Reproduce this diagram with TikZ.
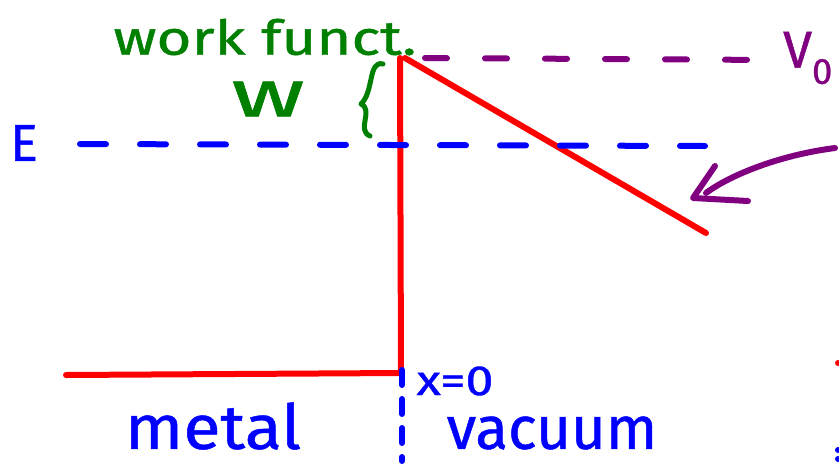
\documentclass[tikz,border=0pt]{standalone}
\usepackage{fontspec}
\setmainfont{Fira Sans}[UprightFeatures={FakeBold=0.8}]
\usetikzlibrary{arrows.meta}
\definecolor{penred}{RGB}{255,0,0}
\definecolor{penblue}{RGB}{0,0,255}
\definecolor{pengreen}{RGB}{0,128,0}
\definecolor{penpurple}{RGB}{128,0,128}
\tikzset{
  pen/.style={line width=6pt, line cap=round, line join=round},
  redpen/.style={pen, penred},
  bluedash/.style={pen, penblue, dash pattern=on 26pt off 34pt},
  purpledash/.style={pen, penpurple, dash pattern=on 22pt off 38pt},
  vdash/.style={pen, penblue, dash pattern=on 15pt off 14pt},
  label/.style={inner sep=0pt},
}
\newcommand{\fsz}[1]{\fontsize{#1}{#1}\selectfont}
\begin{document}
\begin{tikzpicture}[x=1pt,y=-1pt]
\useasboundingbox (0,0) rectangle (839,467);
% potential profile
\coordinate (m0) at (66,375);
\coordinate (m1) at (401,373);
\coordinate (top) at (400,58);
\coordinate (s0) at (405,58);
\coordinate (s1) at (706,233);
\draw[redpen] (m0) -- (m1) -- (top);
\draw[redpen] (s0) -- (s1);
% E level
\node[label, text=penblue, font=\fsz{52}] (E) at (24,143) {E};
\coordinate (e0) at (80,144);
\coordinate (e1) at (705,146);
\draw[bluedash] (e0) -- (e1);
% V0 level
\node[label, text=penpurple, font=\fsz{52}] (V) at (808,58) {V\textsubscript{0}};
\coordinate (v0) at (425,58);
\coordinate (v1) at (776,60);
\draw[purpledash] (v0) -- (v1);
% purple arrow
\coordinate (a0) at (835,148);
\coordinate (a1) at (706,193);
\coordinate (h0) at (715,166);
\coordinate (h1) at (693,198);
\coordinate (h2) at (748,201);
\draw[pen, penpurple] (a0) .. controls (780,155) and (730,175) .. (a1);
\draw[pen, penpurple] (h0) -- (h1) -- (h2);
% work function
\node[label, text=pengreen, font=\fsz{48}, xscale=1.25] (wf) at (265,37) {work funct.};
\node[label, text=pengreen, font=\fsz{66}, xscale=1.55] (W) at (268,99) {w};
\coordinate (b0) at (383,64);
\coordinate (b1) at (361,104);
\coordinate (b2) at (370,136);
\draw[pen, pengreen, line width=5pt] (b0) .. controls (368,60) and (374,92) .. (b1)
  .. controls (374,110) and (356,130) .. (b2);
% x=0 line
\coordinate (x0) at (402,370);
\coordinate (x1) at (402,461);
\draw[vdash] (x0) -- (x1);
\node[label, text=penblue, font=\fsz{42}, xscale=1.2] (x) at (455,381) {x=0};
\node[label, text=penblue, font=\fsz{62}, xscale=1.1] (metal) at (213,426) {metal};
\node[label, text=penblue, font=\fsz{60}] (vac) at (552,433) {vacuum};
% edge marks
\fill[penred] (838,363) circle (3pt);
\fill[penblue] (838,450) circle (3pt);
\fill[penblue] (838,459) circle (3pt);
\end{tikzpicture}
\end{document}
